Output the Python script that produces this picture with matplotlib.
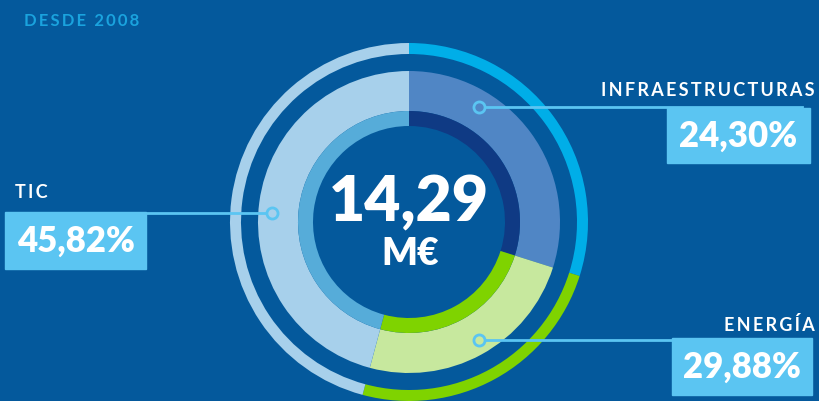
import matplotlib
matplotlib.use('Agg')
import matplotlib.pyplot as plt
from matplotlib.patches import Rectangle

# data
sectors = ['INFRAESTRUCTURAS', 'ENERGÍA', 'TIC']
arc_share = [29.88, 24.30, 45.82]          # arc sizes as drawn, clockwise from top
label_pct = ['24,30%', '29,88%', '45,82%']  # percentages printed in the boxes
total_text = '14,29'
unit_text = 'M€'
subtitle = 'DESDE 2008'

bg = '#04599c'
main_colors = ['#5086c5', '#c7e89e', '#a7d0eb']
inner_colors = ['#0f3a84', '#7fd300', '#56acd9']
outer_colors = ['#00aee8', '#7fd300', '#a7d0eb']
box_color = '#5bc5f2'

W, H = 820, 401
cx, cy, R = 409, 222, 179

plt.rcParams['font.family'] = ['Lato', 'DejaVu Sans']

fig = plt.figure(figsize=(W / 100, H / 100), dpi=100, facecolor=bg)

# donut axes, 1 unit = R pixels
ax_d = fig.add_axes([(cx - R) / W, (H - cy - R) / H, 2 * R / W, 2 * R / H])
ax_d.set_xlim(-1, 1)
ax_d.set_ylim(-1, 1)
ax_d.set_aspect('equal')
ax_d.axis('off')

ring_specs = [
    (1.0, 11 / R, outer_colors),
    (151 / R, 40 / R, main_colors),
    (111 / R, 15 / R, inner_colors),
]
for radius, width, cols in ring_specs:
    ax_d.pie(arc_share, radius=radius, colors=cols, startangle=90,
             counterclock=False, wedgeprops=dict(width=width, linewidth=0))
ax_d.set_xlim(-1, 1)
ax_d.set_ylim(-1, 1)

# overlay in pixel coordinates
ax = fig.add_axes([0, 0, 1, 1])
ax.set_xlim(0, W)
ax.set_ylim(H, 0)
ax.axis('off')
ax.patch.set_alpha(0)

ax.text(cx, 203, total_text, color='white', fontsize=45, fontweight='heavy',
        ha='center', va='center')
ax.text(410, 254, unit_text, color='white', fontsize=27, fontweight='heavy',
        ha='center', va='center')

ax.text(24, 21, '\u2009'.join(subtitle), color='#1aa3de', fontsize=12,
        fontweight='bold', ha='left', va='center')

# label boxes: (name x, name y, name ha, box x0, y0, x1, y1, marker, line end)
labels = [
    (815, 91, 'right', 667, 108, 810, 163, (479, 107), 802),
    (815, 325, 'right', 672, 338, 812, 395, (479, 340), 672),
    (15, 192, 'left', 5, 212, 146, 269, (272, 213), 146),
]
for i, (nx, ny, nha, x0, y0, x1, y1, mk, lx) in enumerate(labels):
    ax.add_patch(Rectangle((x0, y0), x1 - x0, y1 - y0, color=box_color, zorder=2))
    ax.plot([mk[0], lx], [mk[1], mk[1]], color=box_color, lw=2, zorder=3)
    ax.plot(mk[0], mk[1], 'o', ms=8, mfc=main_colors[i], mec=box_color,
            mew=2, zorder=4)
    ax.text(nx, ny, '\u2009'.join(sectors[i]), color='white', fontsize=13,
            fontweight='bold', ha=nha, va='center', zorder=5)
    ax.text((x0 + x1) / 2, (y0 + y1) / 2 + 1, label_pct[i], color='white',
            fontsize=25, fontweight='heavy', ha='center', va='center', zorder=5)

fig.savefig('out.png', dpi=100, facecolor=bg)
